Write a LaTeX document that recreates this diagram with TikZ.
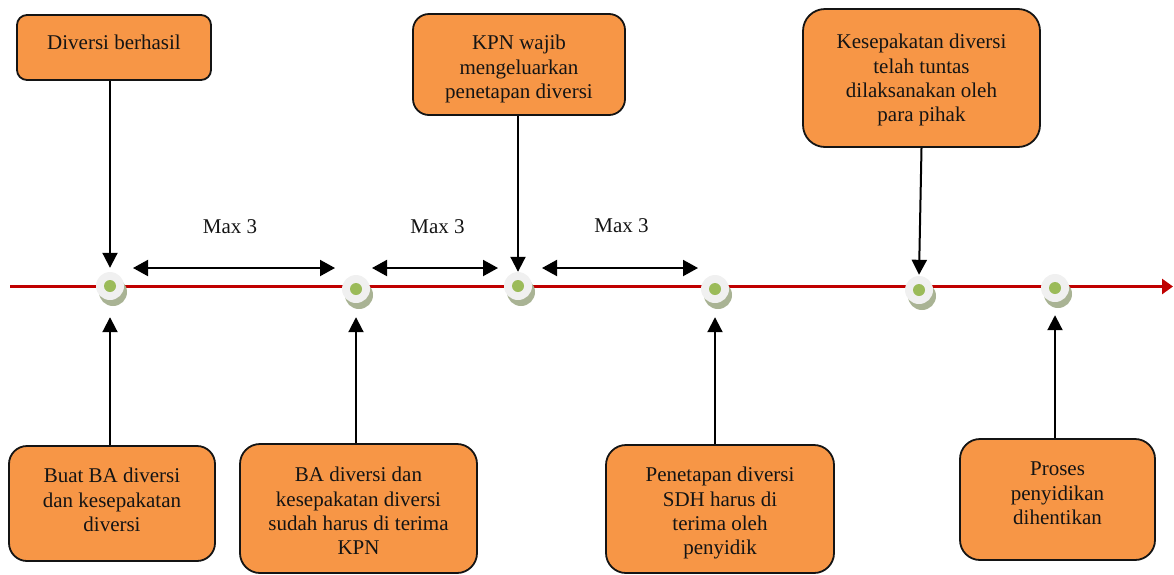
\documentclass[tikz,border=0pt]{standalone}
\usepackage{fontspec}
\setmainfont{Liberation Serif}
\usetikzlibrary{arrows.meta}
\definecolor{boxorange}{HTML}{F79646}
\definecolor{linered}{HTML}{C00000}
\definecolor{dotgreen}{HTML}{9BBB59}
\definecolor{ringgrey}{HTML}{F0F0F0}
\definecolor{shadowc}{HTML}{A9B394}
\definecolor{inkc}{HTML}{141414}
\begin{document}
\begin{tikzpicture}[x=1pt,y=-1pt,
  box/.style={draw=inkc, fill=boxorange, line width=1.8pt, inner sep=0pt},
  txt/.style={font=\fontsize{21}{24.3}\selectfont, text=inkc, align=center, inner sep=0pt},
  ring/.style={circle, fill=ringgrey, minimum size=28pt, inner sep=0pt},
  conn/.style={draw=black, line width=2pt, -{Triangle[length=15pt,width=15pt]}},
  span/.style={draw=black, line width=2pt, {Triangle[length=15pt,width=16pt]}-{Triangle[length=15pt,width=16pt]}},
  timeline/.style={draw=linered, line width=3.3pt, -{Triangle[length=11pt,width=15pt]}}]
\useasboundingbox (0,0) rectangle (1174,574);

% time axis
\coordinate (tl0) at (10,286.5);
\coordinate (tl1) at (1173,286.5);
\draw[timeline] (tl0) -- (tl1);

% milestone markers
\foreach \n/\x/\y in {1/110/286, 2/356/289, 3/518/286, 4/715/289, 5/919/290, 6/1055/288} {
  \fill[shadowc] (\x+3,\y+6) circle[radius=14pt];
  \node[ring] (c\n) at (\x,\y) {};
  \fill[dotgreen] (c\n.center) circle[radius=6pt];
}

% upper boxes
\node[box, rounded corners=10pt, minimum width=194pt, minimum height=65pt] (t1) at (114,47.5) {};
\node[txt, anchor=north] (t1x) at (114,35) {Diversi berhasil};
\node[box, rounded corners=16pt, minimum width=212pt, minimum height=101pt] (t2) at (519,64.5) {};
\node[txt, anchor=north] (t2x) at (519,35) {KPN wajib\\mengeluarkan\\penetapan diversi};
\node[box, rounded corners=22pt, minimum width=237pt, minimum height=138pt] (t3) at (921.5,78) {};
\node[txt, anchor=north] (t3x) at (921.5,34) {Kesepakatan diversi\\telah tuntas\\dilaksanakan oleh\\para pihak};

% lower boxes
\node[box, rounded corners=18pt, minimum width=206pt, minimum height=115pt] (b1) at (112,503.5) {};
\node[txt, anchor=north] (b1x) at (112,468) {Buat BA diversi\\dan kesepakatan\\diversi};
\node[box, rounded corners=20pt, minimum width=237pt, minimum height=129pt] (b2) at (358.5,508.5) {};
\node[txt, anchor=north] (b2x) at (358.5,467) {BA diversi dan\\kesepakatan diversi\\sudah harus di terima\\KPN};
\node[box, rounded corners=20pt, minimum width=228pt, minimum height=128pt] (b3) at (720,509) {};
\node[txt, anchor=north] (b3x) at (720,467) {Penetapan diversi\\SDH harus di\\terima oleh\\penyidik};
\node[box, rounded corners=20pt, minimum width=195pt, minimum height=121pt] (b4) at (1057.5,499.5) {};
\node[txt, anchor=north] (b4x) at (1057.5,462) {Proses\\penyidikan\\dihentikan};

% arrows into the markers
\draw[conn, shorten >=4pt] (t1.south -| c1) -- (c1.north);
\draw[conn] (t2.south -| c3) -- (c3.north);
\draw[conn, shorten >=1pt] (t3.south) -- (c5.north);
\draw[conn, shorten >=17pt] (b1.north -| c1) -- (c1.south);
\draw[conn, shorten >=14pt] (b2.north -| c2) -- (c2.south);
\draw[conn, shorten >=14pt] (b3.north -| c4) -- (c4.south);
\draw[conn, shorten >=13pt] (b4.north -| c6) -- (c6.south);

% time limits between milestones
\coordinate (s1a) at (133,268); \coordinate (s1b) at (335,268);
\coordinate (s2a) at (372,268); \coordinate (s2b) at (498,268);
\coordinate (s3a) at (542,268); \coordinate (s3b) at (698,268);
\draw[span] (s1a) -- (s1b);
\draw[span] (s2a) -- (s2b);
\draw[span] (s3a) -- (s3b);
\node[txt, anchor=north] (m1) at (230,219) {Max 3};
\node[txt, anchor=north] (m2) at (437.5,219) {Max 3};
\node[txt, anchor=north] (m3) at (621.5,218) {Max 3};
\end{tikzpicture}
\end{document}
